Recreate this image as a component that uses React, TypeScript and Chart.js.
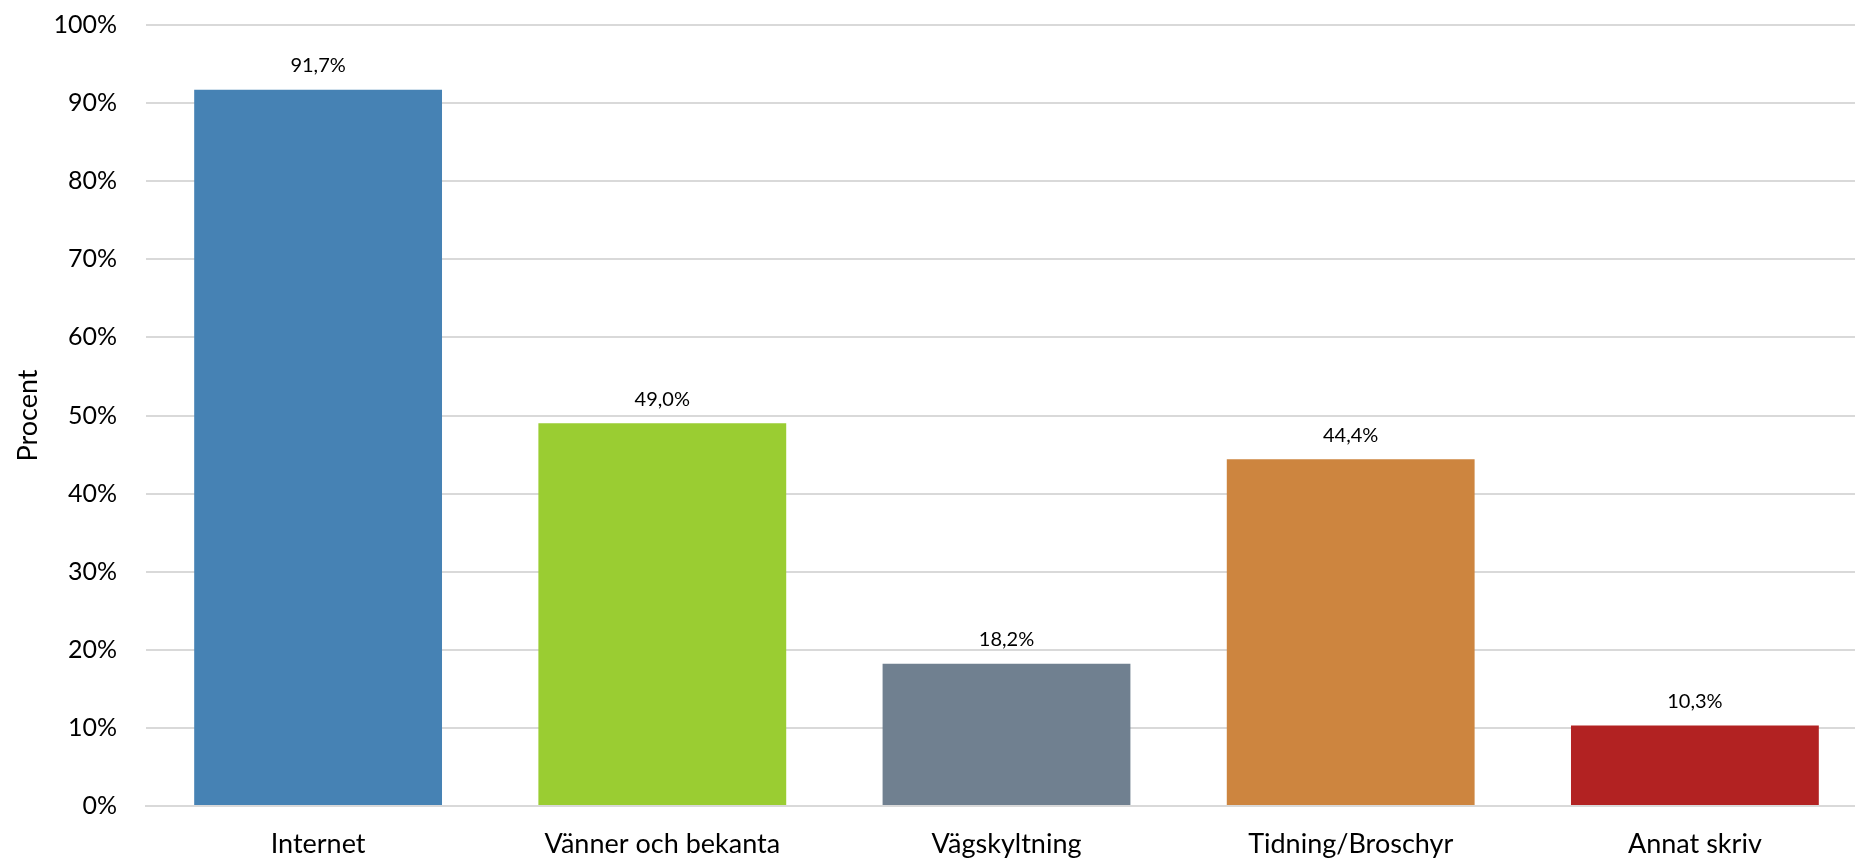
import React, { useEffect, useRef } from "react";
import { Chart, registerables } from "chart.js";

Chart.register(...registerables);

const categories = ["Internet", "Vänner och bekanta", "Vägskyltning", "Tidning/Broschyr", "Annat skriv"];
const values = [91.7, 49.0, 18.2, 44.4, 10.3];
const valueLabels = ["91,7%", "49,0%", "18,2%", "44,4%", "10,3%"];
const barColors = ["#4682B4", "#9ACD32", "#708090", "#CD853F", "#B22222"];
const yTicks = [0, 10, 20, 30, 40, 50, 60, 70, 80, 90, 100];

const FONT = "Lato, 'Open Sans', sans-serif";

const valueLabelPlugin = {
  id: "valueLabels",
  afterDatasetsDraw(chart: any) {
    const ctx = chart.ctx;
    const meta = chart.getDatasetMeta(0);
    ctx.save();
    ctx.font = `20px ${FONT}`;
    ctx.fillStyle = "#000";
    ctx.textAlign = "center";
    ctx.textBaseline = "middle";
    meta.data.forEach((bar: any, i: number) => {
      ctx.fillText(valueLabels[i], bar.x, bar.y - 24);
    });
    ctx.restore();
  },
};

export default function App() {
  const ref = useRef<HTMLCanvasElement>(null);
  useEffect(() => {
    if (!ref.current) return;
    const chart = new Chart(ref.current, {
      type: "bar",
      data: {
        labels: categories,
        datasets: [
          {
            data: values,
            backgroundColor: barColors,
            borderWidth: 0,
            categoryPercentage: 0.72,
            barPercentage: 1,
          },
        ],
      },
      options: {
        responsive: false,
        animation: false,
        maintainAspectRatio: false,
        layout: { padding: { top: 25, right: 0, left: 0, bottom: 0 } },
        plugins: {
          legend: { display: false },
          tooltip: { enabled: false },
        },
        scales: {
          x: {
            grid: { display: false, drawTicks: false },
            border: { display: true, color: "#d9d9d9", width: 2 },
            ticks: {
              color: "#000",
              font: { family: FONT, size: 27 },
              padding: 22,
              maxRotation: 0,
              autoSkip: false,
            },
            afterFit: (scale: any) => {
              scale.height = 55;
              scale.paddingLeft = 0;
              scale.paddingRight = 0;
            },
          },
          y: {
            min: 0,
            max: 100,
            afterBuildTicks: (scale: any) => {
              scale.ticks = yTicks.map((v) => ({ value: v }));
            },
            grid: { color: "#d9d9d9", lineWidth: 2, drawTicks: false },
            border: { display: false },
            ticks: {
              color: "#000",
              font: { family: FONT, size: 25 },
              padding: 29,
              callback: (v: any) => `${v}%`,
            },
            title: {
              display: true,
              text: "Procent",
              color: "#000",
              font: { family: FONT, size: 27 },
              padding: { top: 12, bottom: 0 },
            },
            afterFit: (scale: any) => {
              scale.width = 146;
              scale.paddingTop = 0;
              scale.paddingBottom = 0;
            },
          },
        },
      },
      plugins: [valueLabelPlugin],
    });
    return () => chart.destroy();
  }, []);
  return (
    <div style={{ position: "fixed", left: 0, top: 0, width: 1855, height: 861, overflow: "hidden", background: "#fff" }}>
      <canvas ref={ref} width={1867} height={861} style={{ display: "block", width: 1867, height: 861 }} />
    </div>
  );
}
